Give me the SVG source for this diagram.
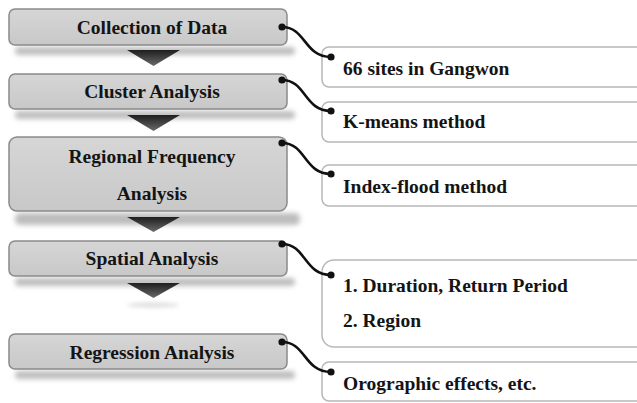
<svg xmlns="http://www.w3.org/2000/svg" width="637" height="403" viewBox="0 0 637 403">
  <defs>
    <linearGradient id="stepFill" x1="0" y1="0" x2="0" y2="1">
      <stop offset="0" stop-color="#d6d6d6"/>
      <stop offset="1" stop-color="#c8c8c8"/>
    </linearGradient>
    <linearGradient id="arrowFill" x1="0" y1="0" x2="0" y2="1">
      <stop offset="0" stop-color="#1e1e1e"/>
      <stop offset="1" stop-color="#6a6a6a"/>
    </linearGradient>
    <filter id="soft" x="-10%" y="-100%" width="120%" height="300%">
      <feGaussianBlur stdDeviation="2.4"/>
    </filter>
    <filter id="softer" x="-50%" y="-200%" width="200%" height="500%">
      <feGaussianBlur stdDeviation="2"/>
    </filter>
  </defs>
  <style>
    .step { fill: url(#stepFill); stroke: #8a8a8a; stroke-width: 1.5; }
    .shadow { fill: #bdbdbd; filter: url(#soft); }
    .note { fill: #ffffff; stroke: #b8b8b8; stroke-width: 1.5; }
    .arrow { fill: url(#arrowFill); }
    .label { font-weight: bold; font-size: 19.5px; fill: #141414; }
    .mid { text-anchor: middle; }
    .wire { fill: none; stroke: #111; stroke-width: 2.6; }
    .dot { fill: #111; }
  </style>

  <rect width="637" height="403" fill="#ffffff"/>

  <!-- shadows under the process steps -->
  <g id="shadows">
    <rect class="shadow" x="15" y="47" width="280" height="8" rx="4"/>
    <rect class="shadow" x="15" y="111" width="280" height="8" rx="4"/>
    <rect class="shadow" x="15" y="213" width="285" height="12" rx="5"/>
    <rect class="shadow" x="15" y="278" width="280" height="8" rx="4"/>
    <rect class="shadow" x="15" y="371" width="280" height="8" rx="4"/>
    <ellipse cx="153" cy="305" rx="26" ry="2.5" fill="#dedede" filter="url(#softer)"/>
  </g>

  <!-- down arrows between steps -->
  <g id="arrows">
    <polygon class="arrow" points="127,50 180,50 153.5,66"/>
    <polygon class="arrow" points="127,115 180,115 153.5,131"/>
    <polygon class="arrow" points="127,217 180,217 153.5,232"/>
    <polygon class="arrow" points="127,283 180,283 153.5,298"/>
  </g>

  <g font-family="Liberation Serif, Tinos, DejaVu Serif, serif">
    <!-- process steps -->
    <g id="step-collection">
      <rect class="step" x="9" y="9" width="278" height="36" rx="6"/>
      <text class="label mid" x="152" y="34">Collection of Data</text>
    </g>
    <g id="step-cluster">
      <rect class="step" x="9" y="74" width="278" height="35" rx="6"/>
      <text class="label mid" x="152" y="98">Cluster Analysis</text>
    </g>
    <g id="step-regional">
      <rect class="step" x="9" y="137" width="278" height="74" rx="8"/>
      <text class="label mid" x="152" y="163">Regional Frequency</text>
      <text class="label mid" x="152" y="200">Analysis</text>
    </g>
    <g id="step-spatial">
      <rect class="step" x="9" y="241" width="278" height="35" rx="6"/>
      <text class="label mid" x="152" y="265">Spatial Analysis</text>
    </g>
    <g id="step-regression">
      <rect class="step" x="9" y="334" width="278" height="35" rx="6"/>
      <text class="label mid" x="152" y="359">Regression Analysis</text>
    </g>

    <!-- detail notes -->
    <g id="note-sites">
      <rect class="note" x="322" y="47" width="340" height="40" rx="7"/>
      <text class="label" x="343" y="75">66 sites in Gangwon</text>
    </g>
    <g id="note-kmeans">
      <rect class="note" x="322" y="102" width="340" height="40" rx="7"/>
      <text class="label" x="343" y="128">K-means method</text>
    </g>
    <g id="note-indexflood">
      <rect class="note" x="322" y="165" width="340" height="41" rx="7"/>
      <text class="label" x="343" y="193">Index-flood method</text>
    </g>
    <g id="note-spatial">
      <rect class="note" x="322" y="260" width="340" height="87" rx="12"/>
      <text class="label" x="343" y="292">1. Duration, Return Period</text>
      <text class="label" x="343" y="327">2. Region</text>
    </g>
    <g id="note-orographic">
      <rect class="note" x="322" y="362" width="340" height="39" rx="7"/>
      <text class="label" x="343" y="390">Orographic effects, etc.</text>
    </g>
  </g>

  <!-- connectors from steps to notes -->
  <g id="connectors">
    <path class="wire" d="M282,27 C306,27 304,57 331,57"/>
    <path class="wire" d="M282,80 C306,80 304,111 331,111"/>
    <path class="wire" d="M282,143 C306,143 304,174 331,174"/>
    <path class="wire" d="M282,244 C306,244 304,275 331,275"/>
    <path class="wire" d="M282,342 C306,342 304,372 331,372"/>
    <circle class="dot" cx="282" cy="27" r="3.6"/>
    <circle class="dot" cx="331" cy="57" r="3.6"/>
    <circle class="dot" cx="282" cy="80" r="3.6"/>
    <circle class="dot" cx="331" cy="111" r="3.6"/>
    <circle class="dot" cx="282" cy="143" r="3.6"/>
    <circle class="dot" cx="331" cy="174" r="3.6"/>
    <circle class="dot" cx="282" cy="244" r="3.6"/>
    <circle class="dot" cx="331" cy="275" r="3.6"/>
    <circle class="dot" cx="282" cy="342" r="3.6"/>
    <circle class="dot" cx="331" cy="372" r="3.6"/>
  </g>
</svg>
